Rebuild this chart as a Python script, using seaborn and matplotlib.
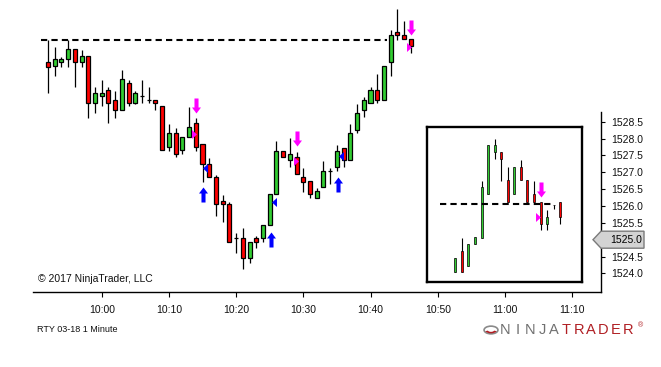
import numpy as np
import pandas as pd
import matplotlib
matplotlib.use("Agg")
import matplotlib.pyplot as plt
import matplotlib.transforms as mtransforms
from matplotlib.path import Path
from matplotlib.patches import Polygon, Circle, Wedge
import seaborn as sns

# ---------------- data ----------------
# main chart: RTY 1-minute bars, minutes relative to 10:00
minutes = list(range(-8, 47))
opens = [1530.26, 1530.14, 1530.26, 1530.35, 1530.65, 1530.26, 1530.44, 1529.05, 1529.25, 1529.43,
         1529.14, 1528.84, 1529.64, 1529.05, 1529.25, 1529.14, 1529.14, 1528.95, 1527.74, 1528.16,
         1527.65, 1528.04, 1528.45, 1527.83, 1527.24, 1526.85, 1526.15, 1526.05, 1525.06, 1525.04,
         1524.45, 1525.04, 1525.04, 1525.43, 1526.35, 1527.64, 1527.36, 1527.44, 1526.85, 1526.74,
         1526.23, 1526.55, 1527.04, 1527.15, 1527.73, 1527.36, 1528.25, 1528.85, 1529.05, 1529.44,
         1529.14, 1530.26, 1531.15, 1531.07, 1530.95]
highs = [1530.92, 1530.71, 1530.41, 1530.92, 1530.65, 1530.63, 1530.44, 1529.54, 1529.74, 1529.54,
         1529.41, 1530.03, 1529.74, 1529.41, 1529.74, 1529.52, 1529.14, 1528.95, 1528.43, 1528.32,
         1528.04, 1528.93, 1528.60, 1527.83, 1527.42, 1526.92, 1526.32, 1526.13, 1525.19, 1525.34,
         1524.92, 1525.11, 1525.43, 1526.35, 1527.93, 1527.64, 1528.01, 1527.61, 1527.12, 1526.74,
         1526.52, 1527.33, 1527.13, 1527.81, 1527.73, 1528.43, 1529.03, 1529.24, 1529.52, 1529.92,
         1530.15, 1531.22, 1531.84, 1531.50, 1530.95]
lows = [1529.34, 1529.84, 1530.13, 1530.13, 1529.54, 1530.13, 1528.62, 1528.75, 1528.95, 1528.45,
        1528.62, 1528.84, 1528.95, 1529.03, 1529.05, 1529.05, 1528.84, 1527.65, 1527.64, 1527.44,
        1527.54, 1528.04, 1527.64, 1526.72, 1526.85, 1525.70, 1525.53, 1524.92, 1524.61, 1524.12,
        1524.32, 1524.74, 1524.92, 1525.43, 1526.35, 1527.44, 1527.15, 1526.95, 1526.42, 1526.23,
        1526.23, 1526.55, 1526.65, 1527.05, 1527.15, 1527.36, 1528.16, 1528.63, 1529.05, 1529.05,
        1529.14, 1529.84, 1530.92, 1530.95, 1530.55]
closes = [1530.13, 1530.35, 1530.35, 1530.65, 1530.26, 1530.44, 1529.05, 1529.34, 1529.34, 1529.05,
          1528.84, 1529.76, 1529.05, 1529.34, 1529.25, 1529.14, 1529.05, 1527.65, 1528.16, 1527.54,
          1528.04, 1528.33, 1527.74, 1527.24, 1526.85, 1526.05, 1526.05, 1524.92, 1525.06, 1524.45,
          1524.92, 1524.92, 1525.43, 1526.35, 1527.64, 1527.44, 1527.53, 1526.95, 1526.72, 1526.35,
          1526.44, 1527.04, 1527.04, 1527.64, 1527.36, 1528.16, 1528.75, 1529.14, 1529.44, 1529.14,
          1530.15, 1531.07, 1531.07, 1530.95, 1530.73]
resistance_level = 1530.92
resistance_span = (-9.1, 42.5)

# signal markers (minute, price)
sell_arrow_min = [14, 29, 46]
sell_arrow_price = [1528.77, 1527.79, 1531.07]
short_entry_min = [13.66, 28.84, 45.76]
short_entry_price = [1528.13, 1527.33, 1530.71]
buy_arrow_min = [15.04, 25.24, 35.13]
buy_arrow_price = [1526.55, 1525.23, 1526.85]
long_exit_min = [15.42, 25.57, 35.54]
long_exit_price = [1527.13, 1526.13, 1527.48]

# inset chart (higher time frame), bar slots
inset_slot = list(range(17))
inset_open = [1524.05, 1524.66, 1524.23, 1524.86, 1525.06, 1526.35, 1527.59, 1527.59, 1526.76,
              1526.35, 1527.16, 1526.76, 1526.35, 1526.11, 1525.47, 1526.03, 1526.11]
inset_high = [1524.45, 1525.06, 1524.86, 1525.08, 1526.74, 1527.81, 1527.99, 1527.59, 1527.16,
              1527.16, 1527.36, 1526.76, 1526.74, 1526.11, 1525.88, 1526.03, 1526.11]
inset_low = [1524.05, 1524.05, 1524.23, 1524.86, 1525.06, 1526.35, 1527.38, 1526.75, 1526.11,
             1526.35, 1526.76, 1526.11, 1526.11, 1525.27, 1525.27, 1525.90, 1525.47]
inset_close = [1524.45, 1524.05, 1524.86, 1525.08, 1526.55, 1527.81, 1527.81, 1527.38, 1526.11,
               1527.16, 1526.76, 1526.11, 1526.11, 1525.47, 1525.68, 1526.03, 1525.68]
inset_level = 1526.05
inset_level_span = (-2.33, 14.9)
inset_sell_slot, inset_sell_price = [13.03], [1526.26]
inset_entry_slot, inset_entry_price = [12.6], [1525.68]

last_price = 1525.0
time_ticks = [0, 10, 20, 30, 40, 50, 60, 70]
time_labels = ["10:00", "10:10", "10:20", "10:30", "10:40", "10:50", "11:00", "11:10"]
price_ticks = [1524.0, 1524.5, 1525.0, 1525.5, 1526.0, 1526.5, 1527.0, 1527.5, 1528.0, 1528.5]

# ---------------- style ----------------
sns.set_style("white")
plt.rcParams["font.family"] = ["Liberation Sans", "DejaVu Sans"]

GREEN = "#32CD32"
RED = "#FF0000"
PINK = "#FF00FF"
BLUE = "#0000FF"

W, H = 661, 367
fig = plt.figure(figsize=(W / 100, H / 100), dpi=100)
fig.patch.set_facecolor("white")


def fx(px):
    return px / W


def fy(py):
    return 1 - py / H


ax = fig.add_axes([fx(33.3), fy(292.3), fx(601) - fx(33.3), fy(5) - fy(292.3)])
ax.set_facecolor("white")
ax.set_xlim(-10.18, 74.3)
ax.set_ylim(1523.44, 1531.96)

df = pd.DataFrame({"minute": minutes, "open": opens, "high": highs, "low": lows, "close": closes})
df["color"] = np.where(df["close"] >= df["open"], GREEN, RED)
df["bottom"] = df[["open", "close"]].min(axis=1)
df["height"] = (df["close"] - df["open"]).abs()

ax.vlines(df["minute"], df["low"], df["high"], color="black", lw=0.9, zorder=2)
ax.bar(df["minute"], df["height"], bottom=df["bottom"], width=0.6, color=df["color"],
       edgecolor="black", linewidth=0.9, zorder=3)

ax.hlines(resistance_level, resistance_span[0], resistance_span[1], color="black",
          lw=1.5, linestyles=(0, (3, 2)), zorder=1)

# marker paths
down_arrow = Path([(0, 0), (0.6, 0.8), (0.27, 0.8), (0.27, 2), (-0.27, 2), (-0.27, 0.8), (-0.6, 0.8), (0, 0)],
                  [Path.MOVETO] + [Path.LINETO] * 6 + [Path.CLOSEPOLY])
up_arrow = Path([(0, 0), (0.6, -0.8), (0.27, -0.8), (0.27, -2), (-0.27, -2), (-0.27, -0.8), (-0.6, -0.8), (0, 0)],
                [Path.MOVETO] + [Path.LINETO] * 6 + [Path.CLOSEPOLY])
right_tri = Path([(-0.55, -1), (0.55, 0), (-0.55, 1), (-0.55, -1)],
                 [Path.MOVETO, Path.LINETO, Path.LINETO, Path.CLOSEPOLY])
left_tri = Path([(0.55, -1), (-0.55, 0), (0.55, 1), (0.55, -1)],
                [Path.MOVETO, Path.LINETO, Path.LINETO, Path.CLOSEPOLY])

arrow_s = 467
tri_s = 42
sns.scatterplot(x=sell_arrow_min, y=sell_arrow_price, marker=down_arrow, s=arrow_s, color=PINK,
                linewidth=0, ax=ax, zorder=5)
sns.scatterplot(x=short_entry_min, y=short_entry_price, marker=right_tri, s=tri_s, color=PINK,
                linewidth=0, ax=ax, zorder=5)
sns.scatterplot(x=buy_arrow_min, y=buy_arrow_price, marker=up_arrow, s=arrow_s, color=BLUE,
                linewidth=0, ax=ax, zorder=5)
sns.scatterplot(x=long_exit_min, y=long_exit_price, marker=left_tri, s=tri_s, color=BLUE,
                linewidth=0, ax=ax, zorder=5)

# axes styling
for side in ["left", "top"]:
    ax.spines[side].set_visible(False)
ax.spines["bottom"].set_color("black")
ax.spines["bottom"].set_linewidth(1.0)
ax.spines["right"].set_color("black")
ax.spines["right"].set_linewidth(1.0)
ax.spines["right"].set_bounds(1523.44, 1528.79)
ax.set_xticks(time_ticks)
ax.set_xticklabels(time_labels)
ax.yaxis.tick_right()
ax.set_yticks(price_ticks)
ax.set_yticklabels([f"{p:.1f}" for p in price_ticks])
ax.tick_params(axis="x", direction="out", length=3.6, width=0.8, color="black", pad=5.5,
               labelsize=7.5, labelcolor="#111111", bottom=True)
ax.tick_params(axis="y", direction="out", length=3, width=0.8, color="black", pad=4,
               labelsize=7.5, labelcolor="#111111", right=True, left=False)
ax.set_xlabel("")
ax.set_ylabel("")
ax.grid(False)

# ---------------- inset ----------------
axi = fig.add_axes([fx(426.7), fy(281.7), fx(581.7) - fx(426.7), fy(126.7) - fy(281.7)])
axi.set_facecolor("white")
axi.set_xlim(-4.36, 19.27)
axi.set_ylim(1523.75, 1528.35)
dfi = pd.DataFrame({"slot": inset_slot, "open": inset_open, "high": inset_high,
                    "low": inset_low, "close": inset_close})
dfi["color"] = np.where(dfi["close"] >= dfi["open"], GREEN, RED)
dfi["bottom"] = dfi[["open", "close"]].min(axis=1)
dfi["height"] = (dfi["close"] - dfi["open"]).abs()
axi.vlines(dfi["slot"], dfi["low"], dfi["high"], color="black", lw=0.8, zorder=2)
axi.bar(dfi["slot"], dfi["height"], bottom=dfi["bottom"], width=0.3, color=dfi["color"],
        edgecolor="black", linewidth=0.5, zorder=3)
axi.hlines(inset_level, inset_level_span[0], inset_level_span[1], color="black",
           lw=1.5, linestyles=(0, (3, 2)), zorder=4)
sns.scatterplot(x=inset_sell_slot, y=inset_sell_price, marker=down_arrow, s=arrow_s, color=PINK,
                linewidth=0, ax=axi, zorder=5)
sns.scatterplot(x=inset_entry_slot, y=inset_entry_price, marker=right_tri, s=tri_s, color=PINK,
                linewidth=0, ax=axi, zorder=5)
axi.set_xticks([])
axi.set_yticks([])
axi.set_xlabel("")
axi.set_ylabel("")
for sp in axi.spines.values():
    sp.set_visible(True)
    sp.set_color("black")
    sp.set_linewidth(1.7)

# ---------------- last price marker ----------------
fig.canvas.draw()
yd = ax.transData.transform((0, last_price))[1]
xr = ax.transAxes.transform((1, 0))[0]
poly = Polygon([(xr - 8, yd), (xr, yd + 8.5), (xr + 43, yd + 8.5), (xr + 43, yd - 8.5), (xr, yd - 8.5)],
               closed=True, facecolor="#d3d3d3", edgecolor="#7a7a7a", linewidth=1.0,
               transform=mtransforms.IdentityTransform(), zorder=10)
fig.add_artist(poly)
fig.text(fx(xr + 9), yd / H, f"{last_price:.1f}", ha="left", va="center", fontsize=7.5,
         color="black", zorder=11)

# ---------------- texts ----------------
fig.text(fx(38), fy(279), "\u00a9 2017 NinjaTrader, LLC", ha="left", va="center", fontsize=7.5,
         color="#111111")
fig.text(fx(37), fy(330), "RTY 03-18 1 Minute", ha="left", va="center", fontsize=6.5,
         color="#111111")

# logo
logo_word = "NINJATRADER"
for i, ch in enumerate(logo_word):
    col = "#707070" if i < 5 else "#B01E23"
    fig.text(fx(505 + i * 12.3), fy(330), ch, ha="center", va="center", fontsize=10.5, color=col)
fig.text(fx(641), fy(326), "\u00ae", ha="center", va="center", fontsize=5, color="#B01E23")
fig.add_artist(Circle((fx(491), fy(330)), 0.0105, transform=fig.transFigure, facecolor="none",
                      edgecolor="#8a8a8a", linewidth=1.2))
fig.add_artist(Wedge((fx(491), fy(330)), 0.009, 200, 340, width=0.004, transform=fig.transFigure,
                     facecolor="#B01E23", edgecolor="none"))

fig.savefig("out.png", dpi=100, facecolor="white")
